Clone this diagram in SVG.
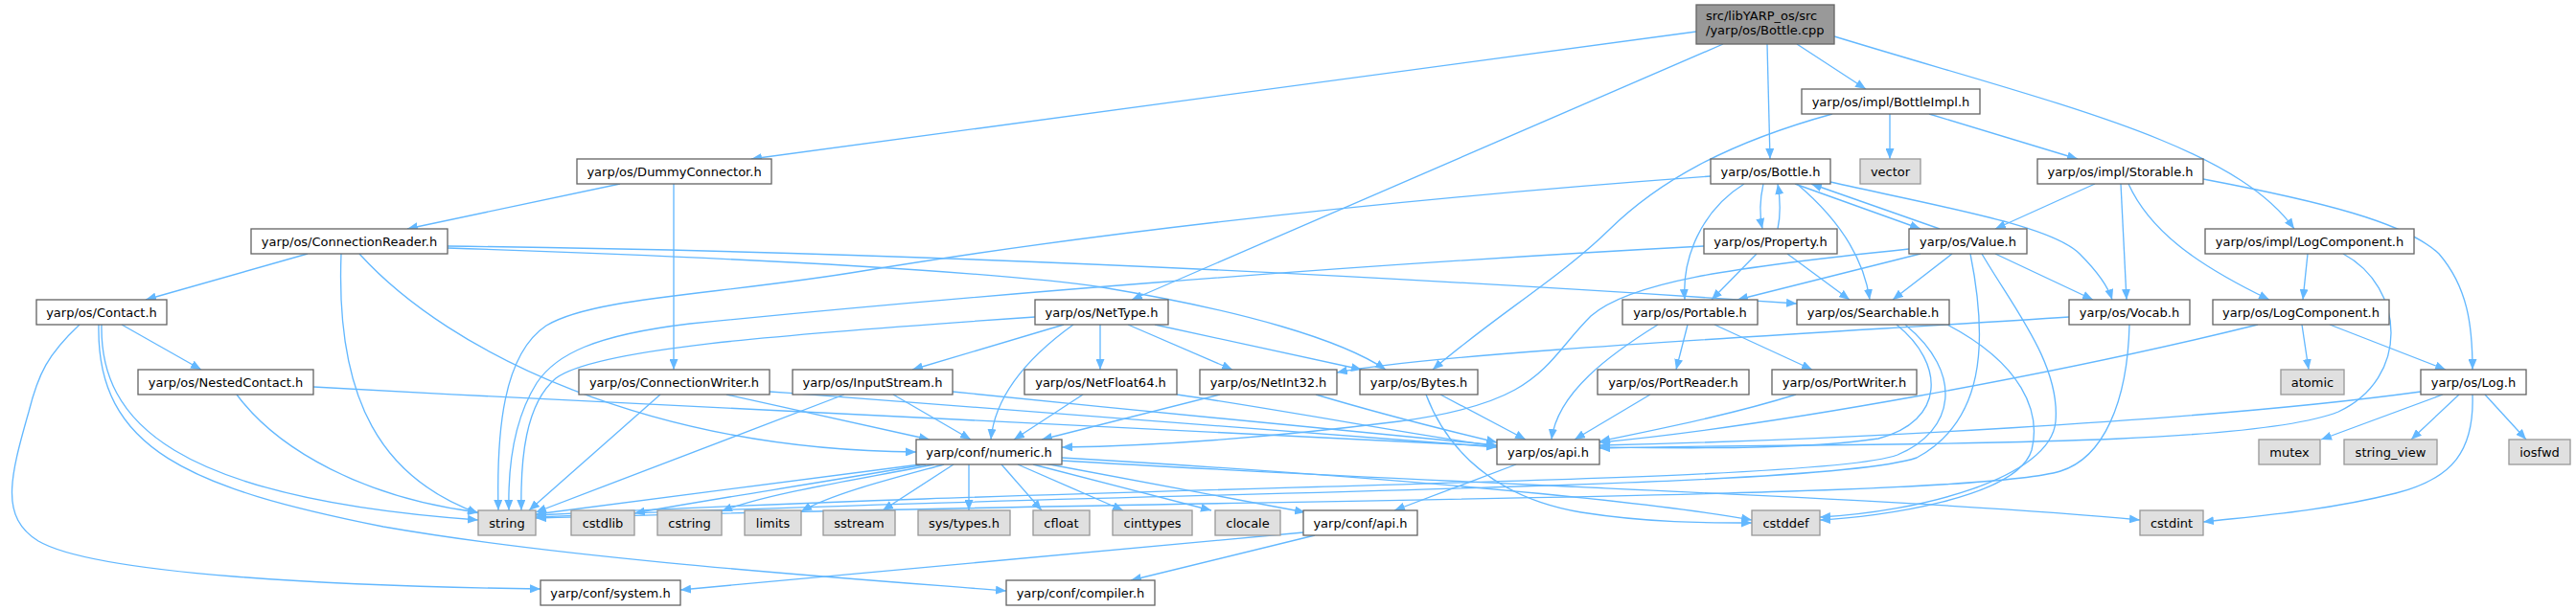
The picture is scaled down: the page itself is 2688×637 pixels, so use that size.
<svg xmlns="http://www.w3.org/2000/svg" width="2688" height="637" viewBox="0 0 2688 637">
<defs>
<marker id="ah" viewBox="0 0 11 9" refX="11" refY="4.5" markerWidth="11" markerHeight="9" markerUnits="userSpaceOnUse" orient="auto">
<path d="M0,0 L11,4.5 L0,9 z" fill="#63b8ff"/>
</marker>
<style>
text{font-family:"DejaVu Sans","Liberation Sans",sans-serif;font-size:13px;text-anchor:middle;fill:#000}
.n rect{fill:#fff;stroke:#666;stroke-width:1.33}
.s rect{fill:#e0e0e0;stroke:#999;stroke-width:1.33}
.r rect{fill:#999;stroke:#666;stroke-width:1.33}
.r text{text-anchor:start}
#edges path{fill:none;stroke:#63b8ff;stroke-width:1.33;marker-end:url(#ah)}
</style>
</defs>
<rect width="2688" height="637" fill="#fff"/>
<g id="edges">
<path d="M1770,33 L784,166"/>
<path d="M1798,46 L1181,313"/>
<path d="M1844,46 L1847,166"/>
<path d="M1875,46 L1947,93"/>
<path d="M1914,38 C2150,110 2330,150 2394,239"/>
<path d="M1972,119 L1972,166"/>
<path d="M2013,119 L2168,166"/>
<path d="M1912,119 C1800,150 1730,190 1679,240 S1560,330 1495,386"/>
<path d="M2186,192 L2082,239"/>
<path d="M2213,192 L2219,313"/>
<path d="M2221,192 C2245,245 2300,280 2368,313"/>
<path d="M2299,187 C2420,210 2510,232 2545,265 C2575,300 2580,340 2580,386"/>
<path d="M2408,265 L2403,313"/>
<path d="M2445,265 C2510,300 2515,395 2440,430 C2340,470 1900,462 1669,468"/>
<path d="M2402,339 L2409,386"/>
<path d="M2431,339 L2552,386"/>
<path d="M2356,339 C2150,390 1850,445 1669,462"/>
<path d="M2549,412 L2422,459"/>
<path d="M2566,412 L2516,459"/>
<path d="M2593,412 L2636,459"/>
<path d="M2580,412 C2582,470 2560,500 2500,515 C2420,535 2340,540 2299,545"/>
<path d="M2526,409 C2300,440 1900,460 1669,465"/>
<path d="M2159,331 C1900,348 1500,368 1395,389"/>
<path d="M2222,339 C2220,420 2195,478 2150,492 C2050,522 1300,520 559,541"/>
<path d="M321,265 L152,313"/>
<path d="M356,265 C350,420 400,500 499,536"/>
<path d="M375,265 C470,370 680,470 956,472"/>
<path d="M467,257 C900,262 1400,285 1875,317"/>
<path d="M467,259 C800,270 1050,285 1150,300 C1300,325 1400,355 1446,386"/>
<path d="M647,192 L425,239"/>
<path d="M703,192 L703,386"/>
<path d="M127,339 L210,386"/>
<path d="M106,339 C104,440 180,520 499,543"/>
<path d="M103,339 C100,470 200,510 400,550 C600,585 900,605 1050,617"/>
<path d="M83,339 C50,370 40,390 30,430 C10,500 0,540 40,565 C100,600 350,612 564,615"/>
<path d="M247,412 C290,470 380,520 499,535"/>
<path d="M327,404 C800,430 1300,455 1562,466"/>
<path d="M689,412 L552,533"/>
<path d="M758,412 L970,459"/>
<path d="M803,409 C1100,430 1400,455 1562,467"/>
<path d="M881,412 L559,535"/>
<path d="M932,412 L1013,459"/>
<path d="M994,409 C1200,430 1450,455 1562,465"/>
<path d="M1110,339 L952,386"/>
<path d="M1148,339 L1148,386"/>
<path d="M1177,339 L1286,386"/>
<path d="M1205,339 L1421,386"/>
<path d="M1120,339 C1070,375 1038,415 1034,459"/>
<path d="M1080,331 C800,350 620,365 580,395 C548,422 543,480 544,533"/>
<path d="M1130,412 L1058,459"/>
<path d="M1228,412 C1350,430 1480,455 1562,466"/>
<path d="M1273,412 L1087,459"/>
<path d="M1373,412 C1450,435 1520,452 1562,462"/>
<path d="M1503,412 L1592,459"/>
<path d="M1488,412 C1510,470 1560,520 1650,535 C1720,546 1780,546 1828,546"/>
<path d="M1761,339 L1749,386"/>
<path d="M1789,339 L1891,386"/>
<path d="M1730,339 C1680,370 1625,410 1619,459"/>
<path d="M1722,412 L1643,459"/>
<path d="M1874,412 C1800,435 1720,450 1669,461"/>
<path d="M1979,339 C2030,380 2030,440 1960,458 C1880,470 1750,468 1669,467"/>
<path d="M1988,339 C2050,390 2040,450 1980,475 C1900,505 1200,505 559,538"/>
<path d="M2032,339 C2110,380 2130,430 2120,470 C2105,520 1960,540 1899,543"/>
<path d="M2004,265 L1813,313"/>
<path d="M2037,265 L1975,313"/>
<path d="M2082,265 L2184,313"/>
<path d="M2024,239 L1890,192"/>
<path d="M1873,192 L2004,239"/>
<path d="M1992,260 C1800,280 1700,295 1660,330 C1610,380 1610,420 1460,440 C1300,460 1180,466 1108,467"/>
<path d="M2056,265 C2075,360 2070,440 2000,478 C1900,512 1200,512 559,540"/>
<path d="M2068,265 C2100,320 2150,380 2145,440 C2140,500 2000,535 1899,540"/>
<path d="M1840,192 C1836,210 1836,225 1839,239"/>
<path d="M1855,239 C1858,225 1858,210 1855,192"/>
<path d="M1820,192 C1775,220 1755,270 1758,313"/>
<path d="M1875,192 C1920,230 1945,270 1951,313"/>
<path d="M1910,190 C2020,215 2140,235 2170,265 C2190,285 2200,300 2204,313"/>
<path d="M1785,184 C1400,212 1100,250 900,283 C750,308 620,310 570,340 C525,370 518,450 520,533"/>
<path d="M1778,257 C1400,277 1000,310 720,338 C620,350 580,370 560,400 C535,440 530,490 531,533"/>
<path d="M1833,265 L1786,313"/>
<path d="M1865,265 L1930,313"/>
<path d="M960,485 C800,505 650,525 559,537"/>
<path d="M966,485 C850,505 720,525 662,536"/>
<path d="M975,485 C900,500 800,515 753,534"/>
<path d="M985,485 C930,500 870,515 836,534"/>
<path d="M995,485 L921,533"/>
<path d="M1011,485 L1011,533"/>
<path d="M1045,485 L1087,533"/>
<path d="M1062,485 L1172,533"/>
<path d="M1078,485 L1264,533"/>
<path d="M1090,484 L1362,535"/>
<path d="M1108,478 C1400,495 1700,520 1828,543"/>
<path d="M1108,481 C1500,505 2000,520 2233,543"/>
<path d="M1582,485 L1455,533"/>
<path d="M1360,556 C1100,580 900,600 710,616"/>
<path d="M1372,559 L1180,606"/>
</g>
<g id="n_cpp" class="r"><rect x="1770" y="5" width="144" height="41"/><text x="1780" y="21">src/libYARP_os/src</text><text x="1780" y="36">/yarp/os/Bottle.cpp</text></g>
<g id="n_bottleimpl" class="n"><rect x="1880" y="93" width="186" height="26"/><text x="1973" y="110.5">yarp/os/impl/BottleImpl.h</text></g>
<g id="n_dummy" class="n"><rect x="602" y="166" width="203" height="26"/><text x="703.5" y="183.5">yarp/os/DummyConnector.h</text></g>
<g id="n_bottle" class="n"><rect x="1785" y="166" width="125" height="26"/><text x="1847.5" y="183.5">yarp/os/Bottle.h</text></g>
<g id="n_vector" class="s"><rect x="1941" y="166" width="63" height="26"/><text x="1972.5" y="183.5">vector</text></g>
<g id="n_storable" class="n"><rect x="2126" y="166" width="173" height="26"/><text x="2212.5" y="183.5">yarp/os/impl/Storable.h</text></g>
<g id="n_connreader" class="n"><rect x="262" y="239" width="205" height="26"/><text x="364.5" y="256.5">yarp/os/ConnectionReader.h</text></g>
<g id="n_property" class="n"><rect x="1778" y="239" width="139" height="26"/><text x="1847.5" y="256.5">yarp/os/Property.h</text></g>
<g id="n_value" class="n"><rect x="1992" y="239" width="123" height="26"/><text x="2053.5" y="256.5">yarp/os/Value.h</text></g>
<g id="n_impllog" class="n"><rect x="2301" y="239" width="218" height="26"/><text x="2410" y="256.5">yarp/os/impl/LogComponent.h</text></g>
<g id="n_contact" class="n"><rect x="38" y="313" width="136" height="26"/><text x="106" y="330.5">yarp/os/Contact.h</text></g>
<g id="n_nettype" class="n"><rect x="1080" y="313" width="139" height="26"/><text x="1149.5" y="330.5">yarp/os/NetType.h</text></g>
<g id="n_portable" class="n"><rect x="1693" y="313" width="141" height="26"/><text x="1763.5" y="330.5">yarp/os/Portable.h</text></g>
<g id="n_searchable" class="n"><rect x="1875" y="313" width="159" height="26"/><text x="1954.5" y="330.5">yarp/os/Searchable.h</text></g>
<g id="n_vocab" class="n"><rect x="2159" y="313" width="126" height="26"/><text x="2222" y="330.5">yarp/os/Vocab.h</text></g>
<g id="n_logcomp" class="n"><rect x="2309" y="313" width="184" height="26"/><text x="2401" y="330.5">yarp/os/LogComponent.h</text></g>
<g id="n_nested" class="n"><rect x="144" y="386" width="183" height="26"/><text x="235.5" y="403.5">yarp/os/NestedContact.h</text></g>
<g id="n_connwriter" class="n"><rect x="604" y="386" width="199" height="26"/><text x="703.5" y="403.5">yarp/os/ConnectionWriter.h</text></g>
<g id="n_inputstream" class="n"><rect x="827" y="386" width="167" height="26"/><text x="910.5" y="403.5">yarp/os/InputStream.h</text></g>
<g id="n_netfloat64" class="n"><rect x="1069" y="386" width="159" height="26"/><text x="1148.5" y="403.5">yarp/os/NetFloat64.h</text></g>
<g id="n_netint32" class="n"><rect x="1252" y="386" width="143" height="26"/><text x="1323.5" y="403.5">yarp/os/NetInt32.h</text></g>
<g id="n_bytes" class="n"><rect x="1419" y="386" width="123" height="26"/><text x="1480.5" y="403.5">yarp/os/Bytes.h</text></g>
<g id="n_portreader" class="n"><rect x="1667" y="386" width="158" height="26"/><text x="1746" y="403.5">yarp/os/PortReader.h</text></g>
<g id="n_portwriter" class="n"><rect x="1849" y="386" width="151" height="26"/><text x="1924.5" y="403.5">yarp/os/PortWriter.h</text></g>
<g id="n_atomic" class="s"><rect x="2380" y="386" width="66" height="26"/><text x="2413" y="403.5">atomic</text></g>
<g id="n_log" class="n"><rect x="2526" y="386" width="110" height="26"/><text x="2581" y="403.5">yarp/os/Log.h</text></g>
<g id="n_numeric" class="n"><rect x="956" y="459" width="152" height="26"/><text x="1032" y="476.5">yarp/conf/numeric.h</text></g>
<g id="n_osapi" class="n"><rect x="1562" y="459" width="107" height="26"/><text x="1615.5" y="476.5">yarp/os/api.h</text></g>
<g id="n_mutex" class="s"><rect x="2357" y="459" width="64" height="26"/><text x="2389" y="476.5">mutex</text></g>
<g id="n_string_view" class="s"><rect x="2446" y="459" width="97" height="26"/><text x="2494.5" y="476.5">string_view</text></g>
<g id="n_iosfwd" class="s"><rect x="2618" y="459" width="64" height="26"/><text x="2650" y="476.5">iosfwd</text></g>
<g id="n_string" class="s"><rect x="499" y="533" width="60" height="26"/><text x="529" y="550.5">string</text></g>
<g id="n_cstdlib" class="s"><rect x="596" y="533" width="66" height="26"/><text x="629" y="550.5">cstdlib</text></g>
<g id="n_cstring" class="s"><rect x="686" y="533" width="67" height="26"/><text x="719.5" y="550.5">cstring</text></g>
<g id="n_limits" class="s"><rect x="777" y="533" width="59" height="26"/><text x="806.5" y="550.5">limits</text></g>
<g id="n_sstream" class="s"><rect x="859" y="533" width="75" height="26"/><text x="896.5" y="550.5">sstream</text></g>
<g id="n_systypes" class="s"><rect x="958" y="533" width="96" height="26"/><text x="1006" y="550.5">sys/types.h</text></g>
<g id="n_cfloat" class="s"><rect x="1078" y="533" width="59" height="26"/><text x="1107.5" y="550.5">cfloat</text></g>
<g id="n_cinttypes" class="s"><rect x="1161" y="533" width="83" height="26"/><text x="1202.5" y="550.5">cinttypes</text></g>
<g id="n_clocale" class="s"><rect x="1268" y="533" width="68" height="26"/><text x="1302" y="550.5">clocale</text></g>
<g id="n_confapi" class="n"><rect x="1360" y="533" width="119" height="26"/><text x="1419.5" y="550.5">yarp/conf/api.h</text></g>
<g id="n_cstddef" class="s"><rect x="1828" y="533" width="71" height="26"/><text x="1863.5" y="550.5">cstddef</text></g>
<g id="n_cstdint" class="s"><rect x="2233" y="533" width="66" height="26"/><text x="2266" y="550.5">cstdint</text></g>
<g id="n_system" class="n"><rect x="564" y="606" width="146" height="26"/><text x="637" y="623.5">yarp/conf/system.h</text></g>
<g id="n_compiler" class="n"><rect x="1050" y="606" width="155" height="26"/><text x="1127.5" y="623.5">yarp/conf/compiler.h</text></g>
</svg>
